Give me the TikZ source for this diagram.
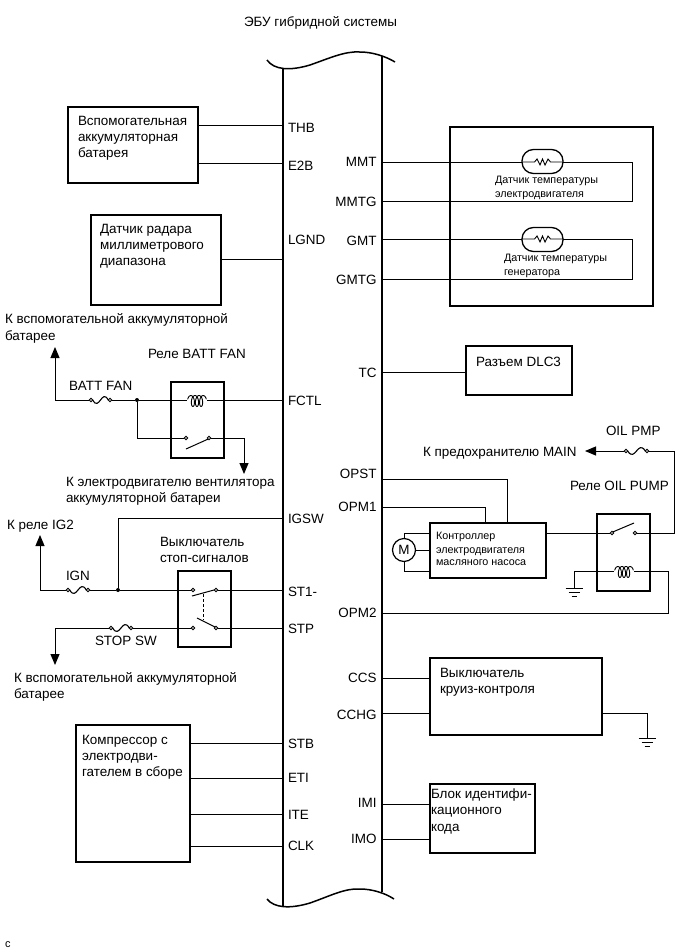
\documentclass[tikz,border=0pt]{standalone}
\usepackage{fontspec}
\setmainfont{Liberation Sans}
\usetikzlibrary{arrows.meta,fit,calc}
\tikzset{
  lbl/.style={anchor=base west,inner sep=0pt,outer sep=0pt,font=\fontsize{13.5}{15}\selectfont,text=black},
  lblr/.style={lbl,anchor=base east},
  slbl/.style={lbl,font=\fontsize{10.8}{12}\selectfont},
  boxn/.style={draw=black,line width=1.3bp,inner sep=0pt,outer sep=0pt,fill=white},
  wire/.style={draw=black,line width=1bp},
  busline/.style={draw=black,line width=1.5bp},
  arrowwire/.style={wire,-{Triangle[length=11bp,width=9bp]}},
  contact/.style={circle,draw=black,line width=.8bp,fill=white,minimum size=3.4bp,inner sep=0pt,outer sep=0pt},
  junction/.style={circle,fill=black,minimum size=4bp,inner sep=0pt,outer sep=0pt}
}
\newcommand{\mybox}[5]{\coordinate (#1a) at (#2,#3);\coordinate (#1b) at (#4,#5);\node[boxn,fit=(#1a)(#1b)] (#1) {};}
\newcommand{\pinL}[4]{\coordinate (#1) at (283,#2);\node[lbl] (#1lab) at (288,#3) {#4};}
\newcommand{\pinR}[4]{\coordinate (#1) at (382,#2);\node[lblr] (#1lab) at (376.5,#3) {#4};}
\newcommand{\fuse}[4]{% name, x1, x2, y
  \node[contact] (#1l) at (#2,#4) {};\node[contact] (#1r) at (#3,#4) {};
  \draw[line width=1.1bp] (#1l.east) .. controls ($(#1l.east)!.42!(#1r.west)+(0,12)$) and ($(#1l.east)!.58!(#1r.west)+(0,-12)$) .. (#1r.west);}
\newcommand{\coil}[3]{% name, xc, y
  \coordinate (#1l) at (#2-10,#3);\coordinate (#1r) at (#2+10,#3);
  \draw[line width=.9bp,samples=90,domain=-0.2:3.2,variable=\t] plot ({#2+4.1*(\t-1.5)+2.5*sin(360*\t)},{#3+1-5.5*cos(360*\t)});}
\newcommand{\gnd}[3]{% name, x, y
  \coordinate (#1) at (#2,#3);
  \draw[line width=1bp] (#2-8.5,#3) -- (#2+8.5,#3);
  \draw[line width=1bp] (#2-5.5,#3+4) -- (#2+5.5,#3+4);
  \draw[line width=1bp] (#2-2.5,#3+8) -- (#2+2.5,#3+8);}
\newcommand{\zig}[2]{% xc,y
  (#1-8,#2) -- (#1-5.5,#2-3) -- (#1-2.5,#2+3) -- (#1,#2-3) -- (#1+2.5,#2+3) -- (#1+5.5,#2-3) -- (#1+8,#2)}
\begin{document}
\begin{tikzpicture}[x=1bp,y=-1bp]
\useasboundingbox (0,0) rectangle (690,952);
\fill[white] (0,0) rectangle (690,952);
% bus
\node[lbl] (title) at (244,26) {ЭБУ гибридной системы};
\draw[busline] (267,60) .. controls (274,70) and (290,71) .. (310,65) .. controls (330,58) and (345,51) .. (360,52) .. controls (372,52) and (385,56) .. (395,62);
\draw[busline] (267,899) .. controls (274,908) and (290,909) .. (310,903) .. controls (330,896) and (345,888) .. (360,889) .. controls (372,889) and (385,893) .. (394,899);
\draw[busline] (283,69) -- (283,907);
\draw[busline] (382,56) -- (382,892);
% pins left
\pinL{thb}{125.5}{132}{THB}
\pinL{etwob}{163.5}{170}{E2B}
\pinL{lgnd}{259.5}{244}{LGND}
\pinL{fctl}{400}{405}{FCTL}
\pinL{igsw}{518.5}{523}{IGSW}
\pinL{stone}{590}{596}{ST1-}
\pinL{stp}{628}{633}{STP}
\pinL{stb}{743}{748}{STB}
\pinL{eti}{778.5}{782}{ETI}
\pinL{ite}{814.5}{819}{ITE}
\pinL{clk}{846}{850}{CLK}
% pins right
\pinR{mmt}{162}{166}{MMT}
\pinR{mmtg}{201.5}{206}{MMTG}
\pinR{gmt}{239}{245}{GMT}
\pinR{gmtg}{279}{284}{GMTG}
\pinR{tc}{372.5}{377}{TC}
\pinR{opst}{479.5}{478}{OPST}
\pinR{opmone}{507.5}{511}{OPM1}
\pinR{opmtwo}{613}{617}{OPM2}
\pinR{ccs}{678.5}{682}{CCS}
\pinR{cchg}{713}{719}{CCHG}
\pinR{imi}{804}{807}{IMI}
\pinR{imo}{839.5}{843}{IMO}
% aux battery
\mybox{aux}{68}{107}{198}{183}
\node[lbl] (auxa) at (78,125.5) {Вспомогательная};
\node[lbl] (auxb) at (78,141.5) {аккумуляторная};
\node[lbl] (auxc) at (78,157.5) {батарея};
\draw[wire] (aux.east |- thb) -- (thb);
\draw[wire] (aux.east |- etwob) -- (etwob);
% radar
\mybox{radar}{91}{215}{221}{305}
\node[lbl] (rada) at (100,233) {Датчик радара};
\node[lbl] (radb) at (100,249) {миллиметрового};
\node[lbl] (radc) at (100,265) {диапазона};
\draw[wire] (radar.east |- lgnd) -- (lgnd);
% BATT FAN relay
\node[lbl] (tobata) at (5,323) {К вспомогательной аккумуляторной};
\node[lbl] (tobatb) at (5,340) {батарее};
\node[lbl] (relbf) at (148,358) {Реле BATT FAN};
\node[lbl] (bflab) at (69,390) {BATT FAN};
\node[lbl] (fana) at (66,486) {К электродвигателю вентилятора};
\node[lbl] (fanb) at (66,502) {аккумуляторной батареи};
\mybox{relayone}{171}{382}{224}{458}
\fuse{fone}{91}{110}{400}
\coil{cone}{197}{400}
\coordinate (tipone) at (55,347);
\coordinate (bendone) at (55,400);
\node[junction] (jone) at (137,400) {};
\draw[arrowwire] (fonel) -- (bendone) -- (tipone);
\draw[wire] (foner) -- (jone) -- (conel);
\draw[wire] (coner) -- (fctl);
\node[contact] (kal) at (186,438) {};
\node[contact] (kar) at (209,438) {};
\draw[line width=1bp] (186,449) -- (kar.south west);
\coordinate (benda) at (137,438);
\coordinate (bendb) at (244,438);
\coordinate (tipb) at (244,474);
\draw[wire] (jone) -- (benda) -- (kal);
\draw[arrowwire] (kar) -- (bendb) -- (tipb);
% IGN / stop
\node[lbl] (igtwo) at (7,529) {К реле IG2};
\node[lbl] (swa) at (160,546) {Выключатель};
\node[lbl] (swb) at (160,562) {стоп-сигналов};
\node[lbl] (iglab) at (66,580) {IGN};
\node[lbl] (stoplab) at (95,645) {STOP SW};
\node[lbl] (tobbta) at (14,682) {К вспомогательной аккумуляторной};
\node[lbl] (tobbtb) at (14,698) {батарее};
\mybox{relaytwo}{178}{571}{231}{647}
\fuse{ftwo}{68}{88}{590}
\fuse{fthree}{111}{131}{628}
\node[junction] (jtwo) at (118,590) {};
\coordinate (bendc) at (40,590);
\coordinate (tipc) at (40,535);
\coordinate (bendd) at (118,518.5);
\node[contact] (sal) at (193,590) {};
\node[contact] (sar) at (216,590) {};
\node[contact] (sbl) at (193,628) {};
\node[contact] (sbr) at (216,628) {};
\draw[arrowwire] (ftwol) -- (bendc) -- (tipc);
\draw[wire] (ftwor) -- (jtwo) -- (sal);
\draw[wire] (jtwo) -- (bendd) -- (igsw);
\draw[wire] (sar) -- (stone);
\draw[wire] (sbr) -- (stp);
\draw[wire] (sbl) -- (fthreer);
\coordinate (bende) at (55,628);
\coordinate (tipe) at (55,665);
\draw[arrowwire] (fthreel) -- (bende) -- (tipe);
\draw[line width=1bp] (192,596) -- (214,590);
\draw[line width=1bp] (197,618) -- (215,627);
\draw[line width=.8bp,dash pattern=on 3bp off 2bp] (203.5,594) -- (203.5,620);
% compressor
\mybox{comp}{76}{725}{190}{862}
\node[lbl] (cpa) at (82,744) {Компрессор с};
\node[lbl] (cpb) at (82,760) {электродви-};
\node[lbl] (cpc) at (82,776) {гателем в сборе};
\draw[wire] (comp.east |- stb) -- (stb);
\draw[wire] (comp.east |- eti) -- (eti);
\draw[wire] (comp.east |- ite) -- (ite);
\draw[wire] (comp.east |- clk) -- (clk);
% sensors
\mybox{sens}{450}{127}{653}{306}
\node[draw=black,line width=1.3bp,fill=white,rounded corners=11.5bp,minimum width=41bp,minimum height=24bp,inner sep=0pt,outer sep=0pt] (pila) at (542.5,161.5) {};
\node[draw=black,line width=1.3bp,fill=white,rounded corners=11.5bp,minimum width=41bp,minimum height=24bp,inner sep=0pt,outer sep=0pt] (pilb) at (542.5,239.5) {};
\coordinate (sa) at (632,162);
\coordinate (sb) at (632,201.5);
\coordinate (sc) at (632,239);
\coordinate (sd) at (632,279);
\draw[wire] (mmt) -- (pila.west |- mmt);
\draw[wire] (pila.east |- mmt) -- (sa) -- (sb) -- (mmtg);
\draw[wire] (gmt) -- (pilb.west |- gmt);
\draw[wire] (pilb.east |- gmt) -- (sc) -- (sd) -- (gmtg);
\draw[line width=.9bp] (pila.west |- mmt) -- (534.5,162) -- \zig{542.5}{162} -- (pila.east |- mmt);
\draw[line width=.9bp] (pilb.west |- gmt) -- (534.5,239) -- \zig{542.5}{239} -- (pilb.east |- gmt);
\node[slbl] (sea) at (495,183) {Датчик температуры};
\node[slbl] (seb) at (495,197) {электродвигателя};
\node[slbl] (sec) at (504,261) {Датчик температуры};
\node[slbl] (sed) at (504,275) {генератора};
% DLC3
\mybox{dlc}{466}{346}{572}{395}
\node[lbl] (dlct) at (476,366) {Разъем DLC3};
\draw[wire] (tc) -- (dlc.west |- tc);
% oil pump
\node[lbl] (oilp) at (606,435) {OIL PMP};
\node[lbl] (tomain) at (423,456) {К предохранителю MAIN};
\node[lbl] (relop) at (570,490) {Реле OIL PUMP};
\mybox{ctrl}{430}{523}{546}{578}
\node[slbl] (cta) at (436,539) {Контроллер};
\node[slbl] (ctb) at (436,553) {электродвигателя};
\node[slbl] (ctc) at (436,565) {масляного насоса};
\coordinate (opa) at (507,479.5);
\coordinate (opb) at (485.5,507.5);
\draw[wire] (opst) -- (opa) -- (opa |- ctrl.north);
\draw[wire] (opmone) -- (opb) -- (opb |- ctrl.north);
\node[circle,draw=black,line width=1.2bp,fill=white,minimum size=23bp,inner sep=0pt,outer sep=0pt,font=\fontsize{13.5}{15}\selectfont] (motor) at (404,550) {M};
\coordinate (ma) at (404,533);
\coordinate (mb) at (404,571);
\draw[wire] (motor.north) -- (ma) -- (ma -| ctrl.west);
\draw[wire] (motor.south) -- (mb) -- (mb -| ctrl.west);
\draw[wire] (motor.east) -- (motor.east -| ctrl.west);
\mybox{reloil}{597}{514}{650}{591}
\node[contact] (oal) at (612,533) {};
\node[contact] (oar) at (635,533) {};
\draw[line width=1bp] (oal.north east) -- (634,523);
\draw[wire] (ctrl.east |- oal) -- (oal);
\fuse{ffour}{626}{647}{451}
\coordinate (oc) at (674,533);
\coordinate (od) at (674,451);
\coordinate (tipf) at (585,451);
\draw[wire] (oar) -- (oc) -- (od) -- (ffourr);
\draw[arrowwire] (ffourl) -- (tipf);
\coil{ctwo}{624}{571}
\coordinate (oe) at (574,571);
\gnd{gone}{574}{588}
\draw[wire] (ctwol) -- (oe) -- (gone);
\coordinate (of) at (668,571);
\coordinate (og) at (668,613);
\draw[wire] (ctwor) -- (of) -- (og) -- (opmtwo);
% cruise
\mybox{cruise}{430}{658}{602}{735}
\node[lbl] (cra) at (440,677) {Выключатель};
\node[lbl] (crb) at (440,693) {круиз-контроля};
\draw[wire] (ccs) -- (cruise.west |- ccs);
\draw[wire] (cchg) -- (cruise.west |- cchg);
\coordinate (ch) at (647,713);
\gnd{gtwo}{647}{738}
\draw[wire] (cruise.east |- cchg) -- (ch) -- (gtwo);
% immob
\mybox{imb}{430}{784}{535}{853}
\node[lbl] (ima) at (431,798) {Блок идентифи-};
\node[lbl] (imb2) at (431,814) {кационного};
\node[lbl] (imc) at (431,831) {кода};
\draw[wire] (imi) -- (imb.west |- imi);
\draw[wire] (imo) -- (imb.west |- imo);
\node[lbl,font=\fontsize{11}{13}\selectfont] (cmark) at (5,947) {c};
\end{tikzpicture}
\end{document}
